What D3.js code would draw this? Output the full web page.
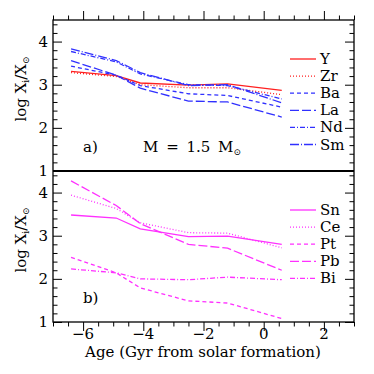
<!DOCTYPE html>
<html>
<head>
<meta charset="utf-8">
<script src="https://cdn.jsdelivr.net/npm/d3@7"></script>
<style>
  body { margin: 0; background: #fff; }
  text { font-family: "DejaVu Serif", "Liberation Serif", serif; fill: #000; }
</style>
</head>
<body>
<svg id="canvas" width="374" height="374"></svg>
<script>
const svg = d3.select("#canvas");

// ages of the model points (Gyr from solar formation)
const ages = [-6.4, -4.9, -4.1, -2.5, -1.2, 0.6];

// panel a)
const Y  = [3.31, 3.21, 3.04, 2.99, 3.02, 2.87];
const Zr = [3.28, 3.19, 3.00, 2.93, 2.93, 2.77];
const Ba = [3.43, 3.22, 2.98, 2.79, 2.75, 2.48];
const La = [3.56, 3.22, 2.92, 2.62, 2.60, 2.25];
const Nd = [3.77, 3.53, 3.25, 3.00, 2.98, 2.67];
const Sm = [3.83, 3.56, 3.28, 2.98, 3.00, 2.58];

// panel b)
const Sn = [3.48, 3.41, 3.16, 2.98, 2.99, 2.80];
const Ce = [3.94, 3.63, 3.30, 3.07, 3.06, 2.72];
const Pt = [2.50, 2.14, 1.79, 1.49, 1.44, 1.08];
const Pb = [4.27, 3.70, 3.28, 2.80, 2.71, 2.20];
const Bi = [2.23, 2.14, 2.00, 1.98, 2.04, 1.98];

const xTicks = [-6, -4, -2, 0, 2];
const yTicks = [1, 2, 3, 4];

const red = "#ff2020", blue = "#3030ff", mag = "#ff30ff";
const dashes = {
    solid: null,
    dot: "1,2",
    dash: "4,3",
    longdash: "9,3",
    dotdash: "5,2,1,2",
    dotlongdash: "9,2,1,2"
};

const topSeries = [
    {name: "Y",  vals: Y,  color: red,  dash: dashes.solid},
    {name: "Zr", vals: Zr, color: red,  dash: dashes.dot},
    {name: "Ba", vals: Ba, color: blue, dash: dashes.dash},
    {name: "La", vals: La, color: blue, dash: dashes.longdash},
    {name: "Nd", vals: Nd, color: blue, dash: dashes.dotdash},
    {name: "Sm", vals: Sm, color: blue, dash: dashes.dotlongdash}
];
const botSeries = [
    {name: "Sn", vals: Sn, color: mag, dash: dashes.solid},
    {name: "Ce", vals: Ce, color: mag, dash: dashes.dot},
    {name: "Pt", vals: Pt, color: mag, dash: dashes.dash},
    {name: "Pb", vals: Pb, color: mag, dash: dashes.longdash},
    {name: "Bi", vals: Bi, color: mag, dash: dashes.dotdash}
];

const pLeft = 53, pRight = 354, pTop = 20, pMid = 171, pBottom = 322;
const fs = 15;

const x = d3.scaleLinear().domain([-7, 3]).range([pLeft, pRight]);
const yA = d3.scaleLinear().domain([1, 4.5]).range([pMid, pTop]);
const yB = d3.scaleLinear().domain([1, 4.5]).range([pBottom, pMid]);

const minorX = d3.range(-7, 3.01, 0.5).filter(v => !xTicks.includes(v));
const minorY = d3.range(1, 4.51, 0.2).map(v => +v.toFixed(1)).filter(v => !yTicks.includes(v));

function axisGroup(axis, tx, ty) {
    const g = svg.append("g").attr("transform", `translate(${tx},${ty})`).call(axis);
    g.select(".domain").remove();
    g.selectAll("line").attr("stroke", "#000").attr("stroke-width", 1);
    g.selectAll("text").attr("font-size", fs).attr("font-family", "DejaVu Serif").attr("fill", "#000");
    return g;
}

function panel(y, series) {
    // left ticks
    axisGroup(d3.axisLeft(y).tickValues(yTicks).tickSizeInner(-9).tickPadding(5).tickFormat(d3.format("d")), pLeft, 0);
    axisGroup(d3.axisLeft(y).tickValues(minorY).tickSizeInner(-4.5).tickFormat(""), pLeft, 0);
    // right ticks
    axisGroup(d3.axisRight(y).tickValues(yTicks).tickSizeInner(-9).tickFormat(""), pRight, 0);
    axisGroup(d3.axisRight(y).tickValues(minorY).tickSizeInner(-4.5).tickFormat(""), pRight, 0);

    const line = d3.line().x((d, i) => x(ages[i])).y(d => y(d));
    series.forEach(s => {
        svg.append("path")
            .attr("d", line(s.vals))
            .attr("fill", "none")
            .attr("stroke", s.color)
            .attr("stroke-width", 1.3)
            .attr("stroke-dasharray", s.dash);
    });

    // legend
    const y0 = y.range()[1] + 39;
    series.forEach((s, i) => {
        const ly = y0 + i * 17.1;
        svg.append("line")
            .attr("x1", 290).attr("x2", 316)
            .attr("y1", ly).attr("y2", ly)
            .attr("stroke", s.color)
            .attr("stroke-width", 1.3)
            .attr("stroke-dasharray", s.dash);
        svg.append("text")
            .attr("x", 320).attr("y", ly + 5)
            .attr("font-size", fs)
            .text(s.name);
    });
}

panel(yA, topSeries);
panel(yB, botSeries);

// x axes
axisGroup(d3.axisBottom(x).tickValues(xTicks).tickSizeInner(-9).tickFormat(""), 0, pTop);
axisGroup(d3.axisBottom(x).tickValues(minorX).tickSizeInner(-4.5).tickFormat(""), 0, pTop);
axisGroup(d3.axisTop(x).tickValues(xTicks).tickSizeInner(-9).tickFormat(""), 0, pBottom);
axisGroup(d3.axisTop(x).tickValues(minorX).tickSizeInner(-4.5).tickFormat(""), 0, pBottom);
svg.append("g").selectAll("text").data(xTicks).join("text")
    .attr("x", d => x(d)).attr("y", 339)
    .attr("text-anchor", "middle")
    .attr("font-size", fs)
    .text(d => d3.format("d")(d).replace("-", "\u2212"));

// frames
svg.append("rect")
    .attr("x", pLeft).attr("y", pTop)
    .attr("width", pRight - pLeft).attr("height", pBottom - pTop)
    .attr("fill", "none").attr("stroke", "#000").attr("stroke-width", 1.3);
svg.append("line")
    .attr("x1", pLeft).attr("x2", pRight).attr("y1", pMid).attr("y2", pMid)
    .attr("stroke", "#000").attr("stroke-width", 2);

// panel labels
svg.append("text").attr("x", 83).attr("y", 152).attr("font-size", fs).text("a)");
svg.append("text").attr("x", 83).attr("y", 303).attr("font-size", fs).text("b)");
const mt = svg.append("text").attr("x", 143).attr("y", 152).attr("font-size", fs)
    .attr("word-spacing", 3);
mt.append("tspan").text("M = 1.5 M");
mt.append("tspan").attr("font-size", 9).attr("dy", 3).text("\u2299");

// y labels
function yLabel(cy) {
    const t = svg.append("text")
        .attr("transform", `translate(26,${cy}) rotate(-90)`)
        .attr("text-anchor", "middle")
        .attr("font-size", fs);
    t.append("tspan").text("log X");
    t.append("tspan").attr("font-size", 9).attr("dy", 3).text("i");
    t.append("tspan").attr("dy", -3).text("/X");
    t.append("tspan").attr("font-size", 9).attr("dy", 3).text("\u2299");
}
yLabel(89);
yLabel(240);

svg.append("text")
    .attr("x", 203).attr("y", 357)
    .attr("text-anchor", "middle")
    .attr("font-size", fs)
    .text("Age (Gyr from solar formation)");
</script>
</body>
</html>
